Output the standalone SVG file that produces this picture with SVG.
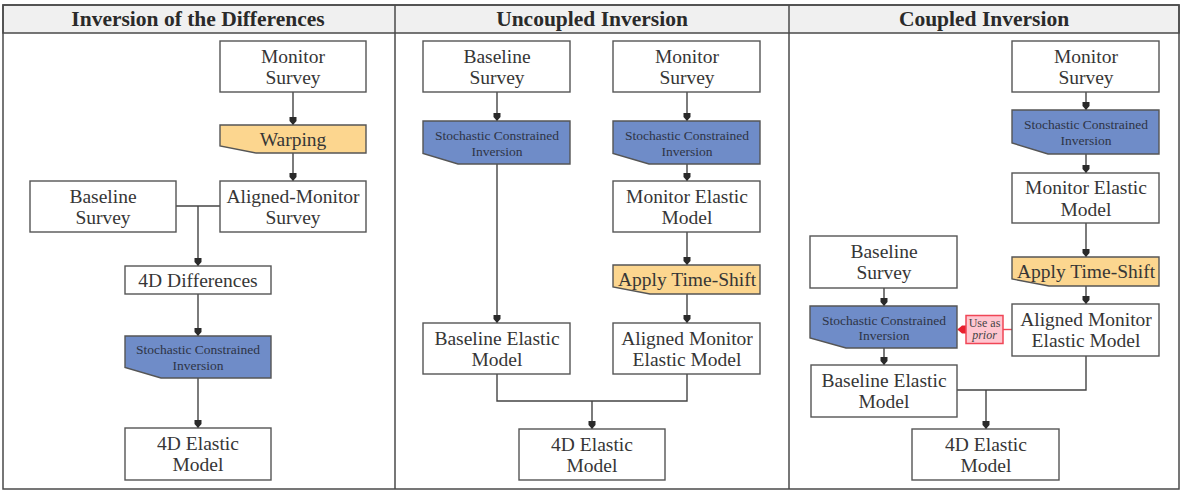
<svg xmlns="http://www.w3.org/2000/svg" width="1182" height="491" viewBox="0 0 1182 491">
  <style>
    .frame { fill: none; stroke: #4a4a4a; stroke-width: 1.5; }
    .head { fill: #f0f0f0; stroke: #4a4a4a; stroke-width: 1.5; }
    .htxt { font-family: "Liberation Serif", serif; font-weight: bold; font-size: 21.5px; fill: #2a2a2a; text-anchor: middle; }
    .box { fill: #ffffff; stroke: #555555; stroke-width: 1.4; }
    .blue { fill: #6f8cc8; stroke: #555555; stroke-width: 1.4; }
    .orange { fill: #fcd68f; stroke: #555555; stroke-width: 1.4; }
    .t { font-family: "Liberation Serif", serif; font-size: 19.5px; fill: #363636; text-anchor: middle; }
    .ts { font-family: "Liberation Serif", serif; font-size: 13.5px; fill: #2e3446; text-anchor: middle; }
    .wire { fill: none; stroke: #444444; stroke-width: 1.4; }
    .red { fill: none; stroke: #f04656; stroke-width: 1.4; }
    .prior { fill: #ffc6d0; stroke: #f04656; stroke-width: 1.5; }
    .tp { font-family: "Liberation Serif", serif; font-size: 12px; fill: #444444; text-anchor: middle; }
  </style>
  <defs>
    <marker id="arr" viewBox="0 -4 8 8" refX="8" refY="0" markerWidth="8" markerHeight="8" markerUnits="userSpaceOnUse" orient="auto">
      <path d="M0,-3.5 L4,-3.5 L8,0 L4,3.5 L0,3.5 Z" fill="#2a2a2a"/>
    </marker>
    <marker id="arrRed" viewBox="0 -4.5 9 9" refX="9" refY="0" markerWidth="9" markerHeight="9" markerUnits="userSpaceOnUse" orient="auto">
      <path d="M0,-4 L4.5,-4 L9,0 L4.5,4 L0,4 Z" fill="#e8202e"/>
    </marker>
  </defs>

  <!-- outer frame, header band and panel dividers -->
  <g id="frame">
    <rect class="head" x="3" y="5" width="1176" height="28"/>
    <rect class="frame" x="3" y="5" width="1176" height="484"/>
    <line class="frame" x1="395" y1="5" x2="395" y2="489"/>
    <line class="frame" x1="789" y1="5" x2="789" y2="489"/>
    <text class="htxt" x="198" y="26">Inversion of the Differences</text>
    <text class="htxt" x="592" y="26">Uncoupled Inversion</text>
    <text class="htxt" x="984" y="26">Coupled Inversion</text>
  </g>

  <!-- connectors -->
  <g id="connectors">
    <!-- panel 1 -->
    <path class="wire" d="M293,92 V125" marker-end="url(#arr)"/>
    <path class="wire" d="M293,153 V181" marker-end="url(#arr)"/>
    <path class="wire" d="M176,206 H220"/>
    <path class="wire" d="M198,206 V266" marker-end="url(#arr)"/>
    <path class="wire" d="M198,294 V336" marker-end="url(#arr)"/>
    <path class="wire" d="M198,378 V428" marker-end="url(#arr)"/>
    <!-- panel 2 -->
    <path class="wire" d="M497,92 V121" marker-end="url(#arr)"/>
    <path class="wire" d="M497,164 V323" marker-end="url(#arr)"/>
    <path class="wire" d="M687,92 V121" marker-end="url(#arr)"/>
    <path class="wire" d="M687,164 V181" marker-end="url(#arr)"/>
    <path class="wire" d="M687,232 V265" marker-end="url(#arr)"/>
    <path class="wire" d="M687,294 V323" marker-end="url(#arr)"/>
    <path class="wire" d="M497,374 V401 H687 V374"/>
    <path class="wire" d="M592,401 V429" marker-end="url(#arr)"/>
    <!-- panel 3 -->
    <path class="wire" d="M1086,92 V110" marker-end="url(#arr)"/>
    <path class="wire" d="M1086,154 V173" marker-end="url(#arr)"/>
    <path class="wire" d="M1086,223 V257" marker-end="url(#arr)"/>
    <path class="wire" d="M1086,286 V304" marker-end="url(#arr)"/>
    <path class="wire" d="M884,288 V306" marker-end="url(#arr)"/>
    <path class="wire" d="M884,348 V365" marker-end="url(#arr)"/>
    <path class="wire" d="M957,390 H1086 V356"/>
    <path class="wire" d="M986,390 V429" marker-end="url(#arr)"/>
    <path class="red" d="M1012,329.5 H1003"/>
    <path class="red" d="M966,329.5 H957.5" marker-end="url(#arrRed)"/>
  </g>

  <!-- panel 1: inversion of the differences -->
  <g id="p1-monitor-survey">
    <rect class="box" x="220" y="41" width="146" height="51"/>
    <text class="t" x="293" y="62.5">Monitor</text>
    <text class="t" x="293" y="84">Survey</text>
  </g>
  <g id="p1-warping">
    <path class="orange" d="M220,125 H366 V153 H256 L220,146 Z"/>
    <text class="t" x="293" y="145.5">Warping</text>
  </g>
  <g id="p1-baseline-survey">
    <rect class="box" x="30" y="181" width="146" height="51"/>
    <text class="t" x="103" y="202.5">Baseline</text>
    <text class="t" x="103" y="224">Survey</text>
  </g>
  <g id="p1-aligned-monitor">
    <rect class="box" x="220" y="181" width="146" height="51"/>
    <text class="t" x="293" y="202.5">Aligned-Monitor</text>
    <text class="t" x="293" y="224">Survey</text>
  </g>
  <g id="p1-4d-differences">
    <rect class="box" x="125" y="266" width="146" height="28"/>
    <text class="t" x="198" y="286.5">4D Differences</text>
  </g>
  <g id="p1-sci">
    <path class="blue" d="M125,336 H271 V378 H161 L125,367.5 Z"/>
    <text class="ts" x="198" y="354">Stochastic Constrained</text>
    <text class="ts" x="198" y="369.5">Inversion</text>
  </g>
  <g id="p1-4d-elastic">
    <rect class="box" x="125" y="428" width="146" height="52"/>
    <text class="t" x="198" y="449.5">4D Elastic</text>
    <text class="t" x="198" y="471">Model</text>
  </g>

  <!-- panel 2: uncoupled inversion -->
  <g id="p2-baseline-survey">
    <rect class="box" x="423" y="41" width="147" height="51"/>
    <text class="t" x="497" y="62.5">Baseline</text>
    <text class="t" x="497" y="84">Survey</text>
  </g>
  <g id="p2-monitor-survey">
    <rect class="box" x="613" y="41" width="147" height="51"/>
    <text class="t" x="687" y="62.5">Monitor</text>
    <text class="t" x="687" y="84">Survey</text>
  </g>
  <g id="p2-sci-baseline">
    <path class="blue" d="M423,121 H570 V164 H458 L423,153.5 Z"/>
    <text class="ts" x="497" y="140">Stochastic Constrained</text>
    <text class="ts" x="497" y="155.5">Inversion</text>
  </g>
  <g id="p2-sci-monitor">
    <path class="blue" d="M613,121 H760 V164 H649 L613,153.5 Z"/>
    <text class="ts" x="687" y="140">Stochastic Constrained</text>
    <text class="ts" x="687" y="155.5">Inversion</text>
  </g>
  <g id="p2-monitor-elastic">
    <rect class="box" x="613" y="181" width="147" height="51"/>
    <text class="t" x="687" y="202.5">Monitor Elastic</text>
    <text class="t" x="687" y="224">Model</text>
  </g>
  <g id="p2-time-shift">
    <path class="orange" d="M613,265 H760 V294 H650 L613,287 Z"/>
    <text class="t" x="687" y="286">Apply Time-Shift</text>
  </g>
  <g id="p2-baseline-elastic">
    <rect class="box" x="423" y="323" width="147" height="51"/>
    <text class="t" x="497" y="344.5">Baseline Elastic</text>
    <text class="t" x="497" y="366">Model</text>
  </g>
  <g id="p2-aligned-monitor-elastic">
    <rect class="box" x="613" y="323" width="147" height="51"/>
    <text class="t" x="687" y="344.5">Aligned Monitor</text>
    <text class="t" x="687" y="366">Elastic Model</text>
  </g>
  <g id="p2-4d-elastic">
    <rect class="box" x="519" y="429" width="146" height="51"/>
    <text class="t" x="592" y="450.5">4D Elastic</text>
    <text class="t" x="592" y="472">Model</text>
  </g>

  <!-- panel 3: coupled inversion -->
  <g id="p3-monitor-survey">
    <rect class="box" x="1012" y="41" width="147" height="51"/>
    <text class="t" x="1086" y="62.5">Monitor</text>
    <text class="t" x="1086" y="84">Survey</text>
  </g>
  <g id="p3-sci-monitor">
    <path class="blue" d="M1012,110 H1159 V154 H1048 L1012,143 Z"/>
    <text class="ts" x="1086" y="129">Stochastic Constrained</text>
    <text class="ts" x="1086" y="144.5">Inversion</text>
  </g>
  <g id="p3-monitor-elastic">
    <rect class="box" x="1012" y="173" width="147" height="50"/>
    <text class="t" x="1086" y="194">Monitor Elastic</text>
    <text class="t" x="1086" y="215.5">Model</text>
  </g>
  <g id="p3-time-shift">
    <path class="orange" d="M1012,257 H1159 V286 H1049 L1012,279 Z"/>
    <text class="t" x="1086" y="278">Apply Time-Shift</text>
  </g>
  <g id="p3-aligned-monitor-elastic">
    <rect class="box" x="1012" y="304" width="147" height="52"/>
    <text class="t" x="1086" y="325.5">Aligned Monitor</text>
    <text class="t" x="1086" y="347">Elastic Model</text>
  </g>
  <g id="p3-baseline-survey">
    <rect class="box" x="810" y="236" width="147" height="52"/>
    <text class="t" x="884" y="257.5">Baseline</text>
    <text class="t" x="884" y="279">Survey</text>
  </g>
  <g id="p3-sci-baseline">
    <path class="blue" d="M810,306 H957 V348 H846 L810,338 Z"/>
    <text class="ts" x="884" y="324.5">Stochastic Constrained</text>
    <text class="ts" x="884" y="340">Inversion</text>
  </g>
  <g id="p3-prior">
    <rect class="prior" x="966" y="315.5" width="37" height="28"/>
    <text class="tp" x="984.5" y="327">Use as</text>
    <text class="tp" x="984.5" y="339" font-style="italic">prior</text>
  </g>
  <g id="p3-baseline-elastic">
    <rect class="box" x="811" y="365" width="146" height="52"/>
    <text class="t" x="884" y="386.5">Baseline Elastic</text>
    <text class="t" x="884" y="408">Model</text>
  </g>
  <g id="p3-4d-elastic">
    <rect class="box" x="912" y="429" width="147" height="51"/>
    <text class="t" x="986" y="450.5">4D Elastic</text>
    <text class="t" x="986" y="472">Model</text>
  </g>
</svg>
